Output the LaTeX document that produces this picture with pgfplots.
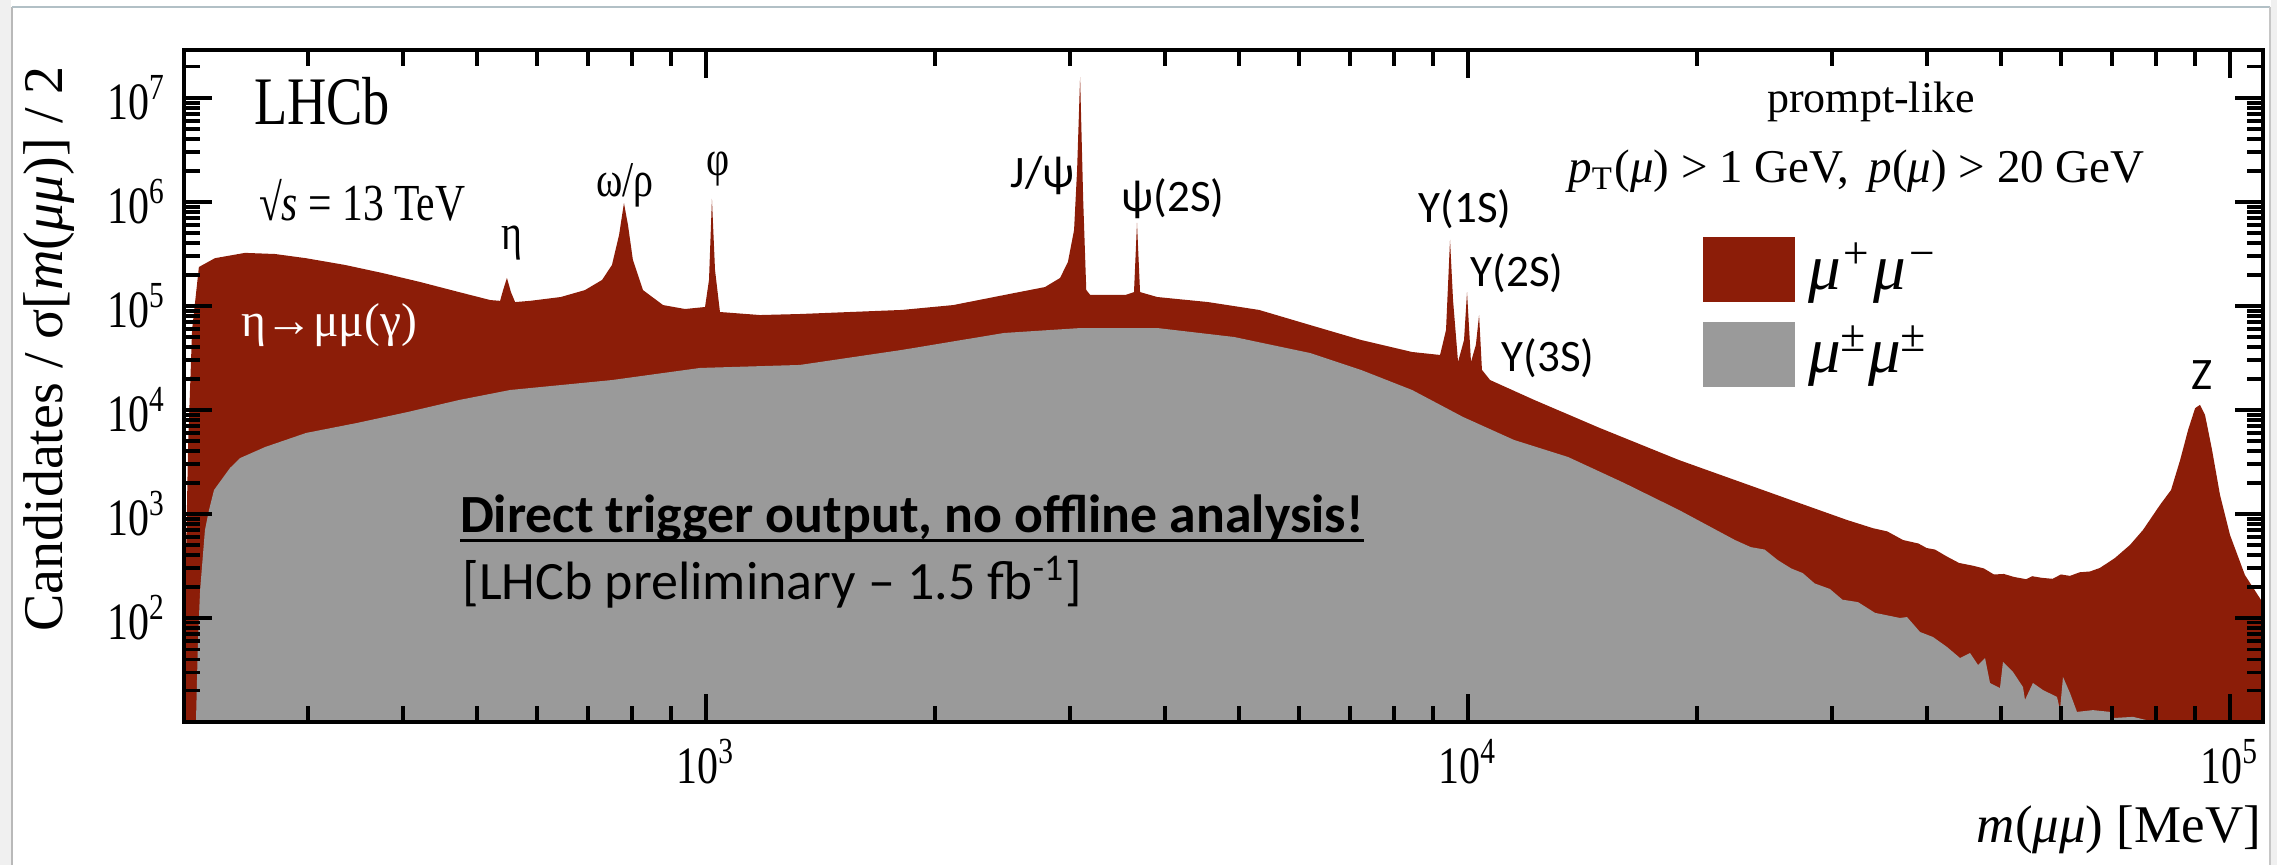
\documentclass[border=0pt]{standalone}
\usepackage{fontspec}
\setmainfont{Liberation Serif}
\newfontfamily\rootfont{Liberation Serif}[FakeStretch=0.8]
\newfontfamily\calfont{Carlito}
\usepackage{pgfplots}
\pgfplotsset{compat=1.18}
\definecolor{lhcbred}{RGB}{140,29,8}
\definecolor{lhcbgray}{RGB}{154,154,154}
\definecolor{frameblue}{RGB}{178,192,198}
\newcommand\myul[1]{\setbox0\hbox{#1}\rlap{\rule[-1.9pt]{\wd0}{0.6pt}}\box0}
\begin{document}
\begin{tikzpicture}
\path[use as bounding box] (-36.8pt,-28.6pt) rectangle (418.6pt,144.4pt);
\fill[gray!12] (-36.8pt,-28.6pt) rectangle (-34.6pt,144.4pt);
\fill[gray!12] (417.4pt,-28.6pt) rectangle (418.6pt,144.4pt);
\draw[gray!55, line width=0.5pt] (-34.4pt,-28.6pt) -- (-34.4pt,143pt);
\draw[frameblue, line width=0.5pt] (-34.4pt,143pt) -- (417.2pt,143pt);
\draw[gray!45, line width=0.5pt] (417.2pt,143pt) -- (417.2pt,-28.6pt);
\begin{axis}[
  scale only axis, width=415.8pt, height=134.4pt,
  xmode=log, ymode=log,
  xmin=206.5, xmax=110500, ymin=10, ymax=2.894e7,
  axis on top,
  xtick pos=both, ytick pos=both, tick align=inside,
  axis line style={line width=0.7pt},
  tick style={line width=0.8pt, draw=black},
  major tick length=5.6pt, minor tick length=3.2pt,
  xtick={1000,10000,100000},
  xticklabels={10\textsuperscript{3},10\textsuperscript{4},10\textsuperscript{5}},
  minor xtick={300,400,500,600,700,800,900,2000,3000,4000,5000,6000,7000,8000,9000,20000,30000,40000,50000,60000,70000,80000,90000},
  ytick={100,1000,10000,100000,1000000,10000000},
  yticklabels={10\textsuperscript{2},10\textsuperscript{3},10\textsuperscript{4},10\textsuperscript{5},10\textsuperscript{6},10\textsuperscript{7}},
  ticklabel style={font=\rootfont\fontsize{10.5}{12}\selectfont},
]
\addplot[fill=lhcbred, draw=none] coordinates {
(206.5,30) (209,4200) (211.6,59000) (216,237000) (226.7,288000) (248.3,324000) (271.8,316000) (298.5,288000) (335.9,248000) (376.6,207000) (421.5,170000) (474,136000) (521,114000) (536.7,112000) (541.6,142000) (547.9,186000) (554.6,136000) (561.6,109000) (587.5,112000) (645,122000) (693.5,142000) (730.5,178000) (752.6,248000) (769,482000) (780.5,977000) (790,601000) (801.7,277000) (826.6,142000) (878.3,102000) (938.5,93500) (997,97700) (1009,178000) (1018,1069000) (1027.5,222000) (1043,87500) (1177,81800) (1328,83700) (1545,87500) (1808,91600) (2110,102000) (2536,133000) (2785,152000) (2915,186000) (2985,265000) (3041,537000) (3069,2040000) (3097,15850000) (3126,1047000) (3155,142600) (3192,128000) (3557,128000) (3645,136000) (3678,628000) (3712,136000) (3908,122000) (4559,109000) (5318,91600) (6204,65600) (7238,47100) (8445,36100) (9190,33800) (9357,58700) (9471,432000) (9557,114000) (9703,29000) (9880,47100) (9970,136000) (10090,29000) (10240,42200) (10340,81800) (10430,24300) (10690,19400) (12210,12500) (14900,6700) (18920,3300) (22400,2120) (26540,1360) (31440,875) (34000,730) (35500,680) (37230,562) (39000,520) (40000,470) (41000,455) (42500,390) (44100,338) (46000,318) (47500,300) (49000,262) (50500,265) (52060,248) (54000,236) (55000,252) (56670,243) (58500,238) (60000,262) (61660,254) (63500,275) (65500,280) (67510,303) (70660,378) (73930,504) (76890,702) (80920,1220) (83680,1700) (86010,3300) (88100,6420) (89990,10400) (91330,11200) (92730,8950) (94720,4120) (97030,1520) (100000,628) (104600,259) (110500,139)
} \closedcycle;
\addplot[fill=lhcbgray, draw=none] coordinates {
(214.1,10) (215.4,61.4) (216.8,186) (220,702) (222.7,1092) (226.1,1700) (229.6,1986) (237.3,2770) (244.7,3450) (263.8,4400) (298.6,6010) (348.3,7500) (406.3,9570) (474.2,12470) (553.2,15560) (752.6,19400) (982,25350) (1328,27100) (1808,37800) (2461,55000) (3106,61400) (3908,61400) (4932,50300) (6204,35300) (7238,24260) (8445,15560) (9849,8570) (11490,5150) (13530,3530) (16020,1990) (18920,1092) (22400,562) (23500,480) (24500,455) (25500,360) (26540,300) (27500,270) (28500,215) (29850,190) (31000,150) (32500,142) (34210,112) (36890,100) (37680,102) (39200,73.3) (40760,65.6) (42520,52.6) (44230,41.2) (45590,46) (46700,35.3) (47700,41.2) (48420,23.7) (49900,21.2) (50360,37.8) (51900,30.3) (53490,21.7) (53820,16.3) (55130,23.7) (56820,20.3) (59290,17.4) (59830,13) (60370,27.1) (61660,19) (62980,12.5) (66110,13) (69570,12.5) (70210,10.9) (74580,11.2) (77820,10.4) (80920,8) (110500,8)
} \closedcycle;
% tick marks drawn explicitly on the axis frame
\pgfplotsinvokeforeach{1000,10000,100000}{
  \draw[black, line width=0.8pt] (axis cs:#1,10) -- ++(0pt,5.6pt);
  \draw[black, line width=0.8pt] (axis cs:#1,2.894e7) -- ++(0pt,-5.6pt);
}
\pgfplotsinvokeforeach{300,400,500,600,700,800,900,2000,3000,4000,5000,6000,7000,8000,9000,20000,30000,40000,50000,60000,70000,80000,90000}{
  \draw[black, line width=0.7pt] (axis cs:#1,10) -- ++(0pt,3.2pt);
  \draw[black, line width=0.7pt] (axis cs:#1,2.894e7) -- ++(0pt,-3.2pt);
}
\pgfplotsinvokeforeach{100,1000,10000,100000,1000000,10000000}{
  \draw[black, line width=0.8pt] (axis cs:206.5,#1) -- ++(5.6pt,0pt);
  \draw[black, line width=0.8pt] (axis cs:110500,#1) -- ++(-5.6pt,0pt);
}
\pgfplotsinvokeforeach{20,30,40,50,60,70,80,90,200,300,400,500,600,700,800,900,2000,3000,4000,5000,6000,7000,8000,9000,20000,30000,40000,50000,60000,70000,80000,90000,200000,300000,400000,500000,600000,700000,800000,900000,2000000,3000000,4000000,5000000,6000000,7000000,8000000,9000000,20000000}{
  \draw[black, line width=0.7pt] (axis cs:206.5,#1) -- ++(3.2pt,0pt);
  \draw[black, line width=0.7pt] (axis cs:110500,#1) -- ++(-3.2pt,0pt);
}
\end{axis}
% texts
\node[anchor=base west, inner sep=0] at (13.8pt,119.4pt) {\fontsize{13.6}{15}\rootfont LHCb};
\node[anchor=base west, inner sep=0] at (14.8pt,100.2pt) {\fontsize{10.4}{12}\rootfont √\textit{s} = 13 TeV};
\node[anchor=base west, inner sep=0, text=white] at (11.2pt,77pt) {\fontsize{9.5}{11}\selectfont η→μμ(γ)};
\node[anchor=base, inner sep=0] at (65.5pt,94.4pt) {\fontsize{10}{11}\rootfont η};
\node[anchor=base, inner sep=0] at (88.2pt,105pt) {\fontsize{10}{11}\rootfont ω/ρ};
\node[anchor=base, inner sep=0] at (106.8pt,109.2pt) {\fontsize{10}{11}\rootfont φ};
\node[anchor=base, inner sep=0] at (171.7pt,106.8pt) {\fontsize{9}{10}\calfont J/ψ};
\node[anchor=base, inner sep=0] at (197.8pt,102pt) {\fontsize{9}{10}\calfont ψ(2S)};
\node[anchor=base, inner sep=0] at (256.2pt,99.8pt) {\fontsize{9}{10}\calfont Υ(1S)};
\node[anchor=base, inner sep=0] at (266.6pt,87pt) {\fontsize{9}{10}\calfont Υ(2S)};
\node[anchor=base, inner sep=0] at (272.8pt,70pt) {\fontsize{9}{10}\calfont Υ(3S)};
\node[anchor=base, inner sep=0] at (403.6pt,66.4pt) {\fontsize{9}{10}\calfont Z};
\node[anchor=base, inner sep=0] at (337.4pt,121.8pt) {\fontsize{8.8}{10}\selectfont prompt-like};
\node[anchor=base, inner sep=0] at (334.5pt,107.8pt) {\fontsize{9.4}{11}\selectfont \textit{p}\textsubscript{T}(\textit{μ}) > 1 GeV,\, \textit{p}(\textit{μ}) > 20 GeV};
\fill[lhcbred] (303.8pt,84pt) rectangle (322.2pt,97pt);
\fill[lhcbgray] (303.8pt,67pt) rectangle (322.2pt,80pt);
\node[anchor=base west, inner sep=0] at (324.6pt,86.4pt) {\fontsize{13}{14}\selectfont\itshape μ\textsuperscript{+}μ\textsuperscript{−}};
\node[anchor=base west, inner sep=0] at (324.6pt,69.8pt) {\fontsize{13}{14}\selectfont\itshape μ\textsuperscript{±}μ\textsuperscript{±}};
\node[anchor=base west, inner sep=0] at (55pt,37.8pt) {\fontsize{10.75}{12}\calfont\bfseries\myul{Direct trigger output, no offline analysis!}};
\node[anchor=base west, inner sep=0] at (55.5pt,24.4pt) {\fontsize{10.8}{12}\calfont [LHCb preliminary – 1.5 fb\textsuperscript{-1}]};
\node[rotate=90, inner sep=0] at (-27pt,74.6pt) {\fontsize{11.2}{13}\selectfont Candidates / σ[\textit{m}(\textit{μμ})] / 2};
\node[anchor=base east, inner sep=0] at (415.6pt,-24.2pt) {\fontsize{10.6}{13}\selectfont \textit{m}(\textit{μμ}) [MeV]};
\end{tikzpicture}
\end{document}
